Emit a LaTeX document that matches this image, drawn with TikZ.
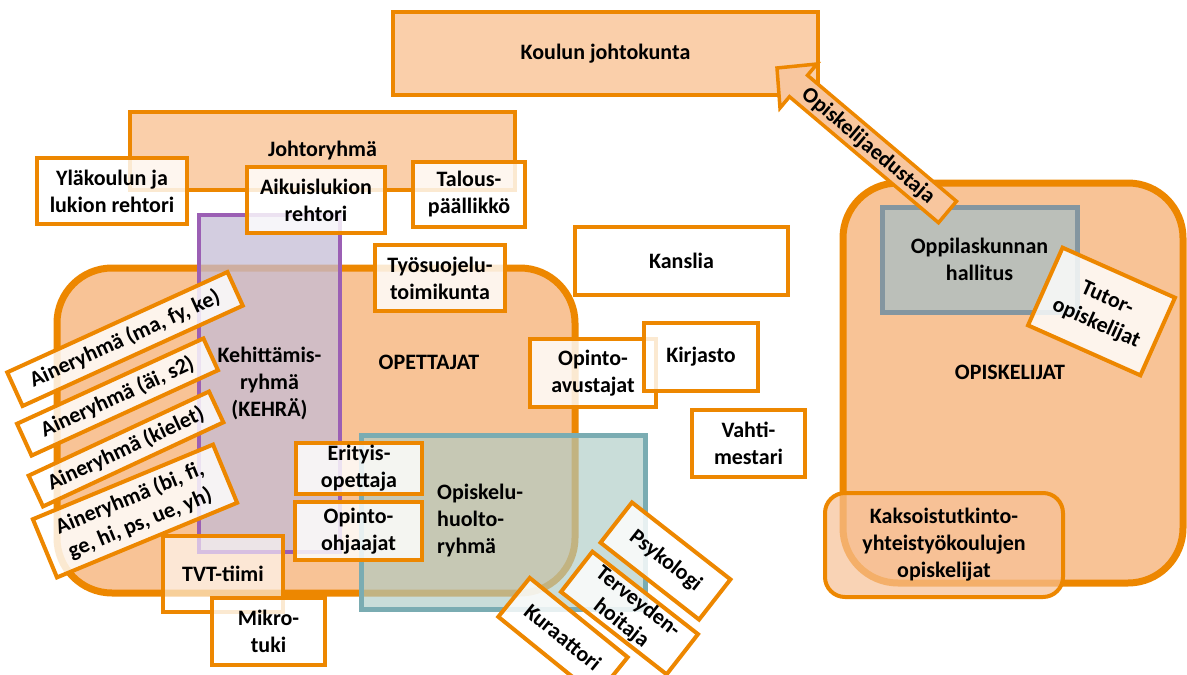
\documentclass[tikz,border=0pt]{standalone}
\usepackage{fontspec}
\setmainfont{Carlito}
\definecolor{org}{RGB}{237,135,0}
\definecolor{lorg}{RGB}{250,207,170}
\definecolor{morg}{RGB}{248,195,150}
\definecolor{arrf}{RGB}{248,198,158}
\definecolor{purp}{RGB}{155,95,180}
\definecolor{lav}{RGB}{196,188,214}
\definecolor{tealb}{RGB}{122,172,178}
\definecolor{tealf}{RGB}{173,203,197}
\definecolor{greyb}{RGB}{132,150,160}
\definecolor{greyf}{RGB}{187,191,185}
\definecolor{kaksf}{RGB}{247,193,150}
\newcommand\lbl{\fontsize{22}{27}\selectfont\bfseries}
\begin{document}
\begin{tikzpicture}[x=1pt,y=-1pt,
  every node/.style={font=\lbl, align=center, inner sep=0pt, text=black},
  wbox/.style={draw=org, line width=4pt, fill=white, fill opacity=0.82, text opacity=1},
  obox/.style={draw=org, line width=4pt, fill=lorg},
  bigbox/.style={draw=org, line width=7pt, fill=morg, rounded corners=55pt},
]
\useasboundingbox (0,0) rectangle (1187,675);

% top
\node[obox, minimum width=425, minimum height=83] (koulu) at (605.5,53.5) {Koulun johtokunta};
\node[obox, minimum width=385, minimum height=78] (johto) at (322.5,151) {Johtoryhmä};

% OPETTAJAT area
\node[bigbox, minimum width=518, minimum height=325] (opet) at (316,430.5) {};
\node (opetl) at (429,362) {OPETTAJAT};
\node[draw=purp, line width=4.5pt, fill=lav, fill opacity=0.75, text opacity=1,
      minimum width=141, minimum height=337] (kehra) at (269.5,383.5) {Kehittämis-\\ryhmä\\(KEHRÄ)};
\node[draw=tealb, line width=5pt, fill=tealf, fill opacity=0.66,
      minimum width=284, minimum height=174] (ohr) at (503,522) {};
\node[anchor=west, align=left] (ohrl) at (437,521) {Opiskelu-\\huolto-\\ryhmä};

% white boxes
\node[wbox, minimum width=150, minimum height=66] (ylak) at (112,191) {Yläkoulun ja\\lukion rehtori};
\node[wbox, minimum width=138, minimum height=66] (aikuis) at (316,200) {Aikuislukion\\rehtori};
\node[wbox, minimum width=112, minimum height=65] (talous) at (469,194.5) {Talous-\\päällikkö};
\node[wbox, minimum width=130, minimum height=66] (tyos) at (440,278) {Työsuojelu-\\toimikunta};

\node[wbox, minimum width=242, minimum height=37, rotate=24.5] (ai1) at (125,339) {Aineryhmä (ma, fy, ke)};
\node[wbox, minimum width=205, minimum height=35, rotate=24.6] (ai2) at (117.5,397) {Aineryhmä (äi, s2)};
\node[wbox, minimum width=199, minimum height=34, rotate=25] (ai3) at (126,449) {Aineryhmä (kielet)};
\node[wbox, minimum width=195, minimum height=63, rotate=22.5] (ai4) at (135,511) {Aineryhmä (bi, fi,\\ge, hi, ps, ue, yh)};

\node[wbox, minimum width=126, minimum height=51] (erit) at (359,468.5) {Erityis-\\opettaja};
\node[wbox, minimum width=127, minimum height=58] (ooh) at (358.5,531) {Opinto-\\ohjaajat};
\node[wbox, fill opacity=0.6, minimum width=120, minimum height=76] (tvt) at (223,574) {TVT-tiimi};
\node[wbox, minimum width=113, minimum height=67] (mikro) at (268.5,631.5) {Mikro-\\tuki};

\node[wbox, minimum width=126, minimum height=68] (oav) at (593,373) {Opinto-\\avustajat};
\node[wbox, minimum width=213, minimum height=68] (kans) at (681.5,261) {Kanslia};
\node[wbox, minimum width=114, minimum height=68] (kirj) at (701,357) {Kirjasto};
\node[wbox, minimum width=113, minimum height=67] (vahti) at (748.5,443.5) {Vahti-\\mestari};

\node[wbox, minimum width=125, minimum height=51, rotate=-38] (psyk) at (665.5,561) {Psykologi};
\node[wbox, minimum width=134, minimum height=51, rotate=-38] (terv) at (629.5,613) {Terveyden-\\hoitaja};
\node[wbox, minimum width=126, minimum height=50, rotate=-39] (kur) at (563,637) {Kuraattori};

% OPISKELIJAT area
\node[bigbox, minimum width=340, minimum height=400] (opis) at (1013,383) {};
\node (opisl) at (1010,372) {OPISKELIJAT};
\node[draw=greyb, line width=5pt, fill=greyf, minimum width=195, minimum height=105] (oph) at (979.5,259.5) {Oppilaskunnan\\hallitus};
\node[wbox, minimum width=123, minimum height=85, rotate=-24] (tutor) at (1101.5,311.5) {Tutor-\\opiskelijat};
\node[draw=org, line width=4pt, fill=kaksf, fill opacity=0.7, text opacity=1, rounded corners=20pt,
      minimum width=238, minimum height=104] (kaks) at (944,545) {Kaksoistutkinto-\\yhteistyökoulujen\\opiskelijat};

% block arrow
\coordinate (t) at (777,68);
\coordinate (b1) at (817,64);
\coordinate (s1) at (807.5,75.3);
\coordinate (e1) at (956.5,201.3);
\coordinate (e2) at (938.5,222.7);
\coordinate (s2) at (789.5,96.7);
\coordinate (b2) at (780,108);
\draw[draw=org, line width=3.5pt, fill=arrf, line join=miter]
  (t) -- (b1) -- (s1) -- (e1) -- (e2) -- (s2) -- (b2) -- cycle;
\node[rotate=-40.2] (edus) at (868,146) {Opiskelijaedustaja};
\end{tikzpicture}
\end{document}
